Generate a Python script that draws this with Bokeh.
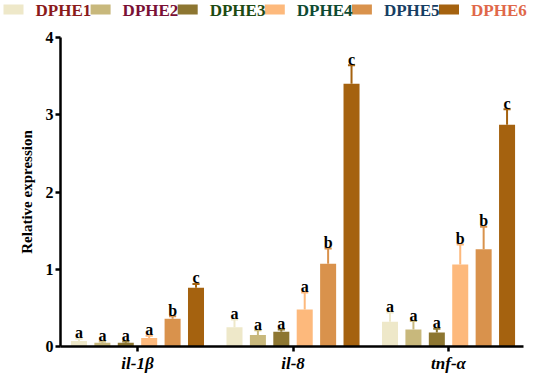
from bokeh.plotting import figure
from bokeh.models import ColumnDataSource, Range1d, FixedTicker
from bokeh.embed import file_html
from bokeh.resources import INLINE
from bokeh.core.properties import value

groups = ["DPHE1", "DPHE2", "DPHE3", "DPHE4", "DPHE5", "DPHE6"]
genes = ["il-1β", "il-8", "tnf-α"]

il1b_mean = [0.07, 0.05, 0.05, 0.11, 0.36, 0.76]
il1b_err = [0.03, 0.015, 0.015, 0.03, 0.03, 0.05]
il1b_sig = ["a", "a", "a", "a", "b", "c"]

il8_mean = [0.25, 0.15, 0.19, 0.48, 1.07, 3.40]
il8_err = [0.10, 0.06, 0.03, 0.22, 0.20, 0.24]
il8_sig = ["a", "a", "a", "a", "b", "c"]

tnfa_mean = [0.32, 0.22, 0.18, 1.06, 1.26, 2.87]
tnfa_err = [0.12, 0.11, 0.05, 0.26, 0.29, 0.20]
tnfa_sig = ["a", "a", "a", "b", "b", "c"]

yticks = [0, 1, 2, 3, 4]

bar_colors = ["#EEE8C9", "#C8B87C", "#8D7631", "#FDB97C", "#D9924C", "#A5620F"]
label_colors = ["#8B1A1A", "#7A1035", "#1E4A12", "#0E4A32", "#173E63", "#E0684A"]

FONT = value("Liberation Serif")
STEP = 0.1505
BAR_W = 0.103
CAP = 0.023

xs, tops, ups, cl, cr, cols, sigs = [], [], [], [], [], [], []
for gi, (m, e, s) in enumerate([(il1b_mean, il1b_err, il1b_sig),
                                 (il8_mean, il8_err, il8_sig),
                                 (tnfa_mean, tnfa_err, tnfa_sig)]):
    for j in range(len(groups)):
        x = gi + (j - 2.5) * STEP
        xs.append(x)
        tops.append(m[j])
        ups.append(m[j] + e[j])
        cl.append(x - CAP)
        cr.append(x + CAP)
        cols.append(bar_colors[j])
        sigs.append(s[j])

src = ColumnDataSource(dict(x=xs, top=tops, up=ups, cl=cl, cr=cr, color=cols, sig=sigs))

p = figure(width=550, height=347, x_range=Range1d(-0.495, 2.482), y_range=Range1d(0, 4),
           output_backend="svg", toolbar_location=None,
           min_border_left=60, min_border_right=27, min_border_top=7, min_border_bottom=31)
p.vbar(x="x", top="top", bottom=0, width=BAR_W, fill_color="color", line_color=None, source=src)
p.segment(x0="x", y0="top", x1="x", y1="up", line_color="color", line_width=2, source=src)
p.segment(x0="cl", y0="up", x1="cr", y1="up", line_color="color", line_width=2, source=src)
p.text(x="x", y="up", text="sig", text_align="center", text_baseline="alphabetic", y_offset=-6,
       text_font=FONT, text_font_style="bold", text_font_size="16px", text_color="black", source=src)

p.xgrid.visible = False
p.ygrid.visible = False
p.outline_line_color = None

p.xaxis.ticker = FixedTicker(ticks=[0, 1, 2])
p.xaxis.major_label_overrides = {i: g for i, g in enumerate(genes)}
p.yaxis.ticker = FixedTicker(ticks=yticks)
for ax in (p.xaxis, p.yaxis):
    ax.axis_line_width = 2.5
    ax.axis_line_color = "black"
    ax.major_tick_line_width = 2.5
    ax.major_tick_line_color = "black"
    ax.minor_tick_line_color = None
    ax.major_tick_in = 0
    ax.major_tick_out = 5
    ax.major_label_text_font = "Liberation Serif"
    ax.major_label_text_font_style = "bold"
    ax.major_label_text_color = "black"
p.xaxis.major_label_text_font_style = "bold italic"
p.xaxis.major_label_text_font_size = "17px"
p.xaxis.major_label_standoff = 2
p.yaxis.major_label_text_font_size = "16px"
p.yaxis.major_label_standoff = 2
p.yaxis.axis_label = "Relative expression"
p.yaxis.axis_label_text_font = "Liberation Serif"
p.yaxis.axis_label_text_font_style = "bold"
p.yaxis.axis_label_text_font_size = "15px"
p.yaxis.axis_label_text_color = "black"
p.yaxis.axis_label_standoff = 8

# legend strip (separate root, so its frame is not aligned to the chart's)
lx = [3 + i * 87.1 for i in range(len(groups))]
lsrc = ColumnDataSource(dict(sx=[v + 10 for v in lx], tx=[v + 32 for v in lx],
                             y=[9] * len(groups), name=groups, fc=bar_colors, tc=label_colors))
lg = figure(width=550, height=30, x_range=Range1d(0, 550), y_range=Range1d(30, 0),
            x_axis_type=None, y_axis_type=None, toolbar_location=None, output_backend="svg",
            min_border=0)
lg.outline_line_color = None
lg.rect(x="sx", y="y", width=20, height=10, fill_color="fc", line_color=None, source=lsrc)
lg.text(x="tx", y="y", text="name", text_align="left", text_baseline="middle", y_offset=1,
        text_font=FONT, text_font_style="bold", text_font_size="17px", text_color="tc", source=lsrc)

open("out.html", "w").write(file_html([lg, p], INLINE))
